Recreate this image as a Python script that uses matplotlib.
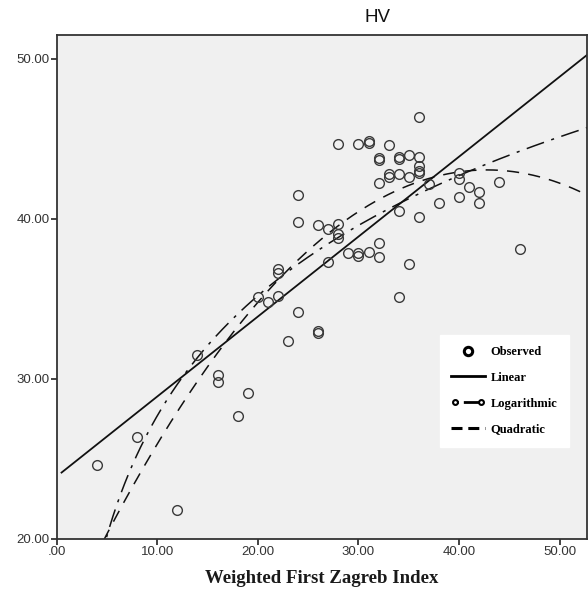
import numpy as np
import matplotlib
matplotlib.use("Agg")
from matplotlib import pyplot as plt
from matplotlib.lines import Line2D
from matplotlib.legend_handler import HandlerLine2D

# observed points
wfz = [4, 8, 12, 14, 16, 16, 18, 19, 20, 21, 22, 22, 22, 23, 24, 24, 24,
       26, 26, 26, 27, 27, 28, 28, 28, 28, 29, 30, 30, 30, 31, 31, 31,
       32, 32, 32, 32, 32, 33, 33, 33, 34, 34, 34, 34, 34, 35, 35, 35,
       36, 36, 36, 36, 36, 36, 37, 38, 40, 40, 40, 41, 42, 42, 44, 46]
hv = [24.6, 26.4, 21.8, 31.5, 30.25, 29.8, 27.7, 29.1, 35.1, 34.8, 36.9, 36.6, 35.2, 32.4, 41.5, 39.8, 34.2,
      39.6, 33.0, 32.85, 39.4, 37.3, 44.7, 39.7, 39.05, 38.8, 37.9, 44.7, 37.85, 37.7, 44.85, 44.75, 37.95,
      43.8, 43.7, 42.25, 38.5, 37.6, 44.6, 42.8, 42.6, 43.85, 43.75, 42.8, 40.5, 35.1, 44.0, 42.6, 37.2,
      46.4, 43.9, 43.3, 43.0, 42.85, 40.1, 42.2, 41.0, 42.9, 42.5, 41.4, 42.0, 41.7, 41.0, 42.3, 38.1]

# fitted model coefficients (estimated from the curves)
lin_coef = [23.9, 0.50]               # a + b*x
log_coef = [2.73, 10.84]              # a + b*ln(x)
quad_coef = [13.875, 1.3647, -0.01595]  # a + b*x + c*x^2

x_ticks = [0, 10, 20, 30, 40, 50]
x_labels = ['.00', '10.00', '20.00', '30.00', '40.00', '50.00']
y_ticks = [20, 30, 40, 50]
y_labels = ['20.00', '30.00', '40.00', '50.00']

fig = plt.figure(figsize=(5.88, 5.97), dpi=100)
ax = fig.add_axes([0.0961, 0.0972, 0.9022, 0.8442])
ax.set_facecolor('#f0f0f0')

xs = np.linspace(0.5, 52.7, 400)
ax.plot(xs, lin_coef[0] + lin_coef[1] * xs, color='#111111', lw=1.3)
ax.plot(xs, log_coef[0] + log_coef[1] * np.log(xs), color='#111111', lw=1.1,
        linestyle=(0, (12, 5, 2, 5)))
ax.plot(xs, quad_coef[0] + quad_coef[1] * xs + quad_coef[2] * xs ** 2,
        color='#111111', lw=1.1, linestyle=(0, (8, 6)))

ax.plot(wfz, hv, linestyle='none', marker='o', markersize=7,
        markerfacecolor='none', markeredgecolor='#3a3a3a', markeredgewidth=1.0)

ax.set_xlim(0, 52.7)
ax.set_ylim(20, 51.5)
ax.set_xticks(x_ticks)
ax.set_xticklabels(x_labels)
ax.set_yticks(y_ticks)
ax.set_yticklabels(y_labels)
ax.tick_params(direction='out', length=4, width=1.2, colors='#222222', pad=1,
               labelsize=9.5, labelcolor='#333333')
for lab in ax.get_xticklabels() + ax.get_yticklabels():
    lab.set_family('Liberation Sans')
for sp in ax.spines.values():
    sp.set_color('#333333')
    sp.set_linewidth(1.3)

ax.set_xlabel('Weighted First Zagreb Index', family='Liberation Serif',
              fontweight='bold', fontsize=13.5, color='#1a1a1a', labelpad=9)
fig.text(378 / 588, 1 - 18 / 597, 'HV', family='Liberation Sans', fontsize=13.5,
         ha='center', va='center', color='#111111')

# legend
handles = [
    Line2D([], [], linestyle='none', marker='o', markersize=6, markerfacecolor='none',
           markeredgecolor='black', markeredgewidth=2.2),
    Line2D([], [], color='black', lw=2),
    Line2D([], [], color='black', lw=2, linestyle=(0, (1.2, 1.8, 6, 1.8, 1.2)),
           marker='o', markersize=3.5,
           markerfacecolor='white', markeredgecolor='black', markeredgewidth=1.5),
    Line2D([], [], color='black', lw=2.2, linestyle=(0, (3.6, 1.9))),
]
labels = ['Observed', 'Linear', 'Logarithmic', 'Quadratic']
leg = ax.legend(handles, labels, loc='upper left', bbox_to_anchor=(0.722, 0.405),
                frameon=True, fancybox=False, handlelength=2.7, handletextpad=0.5,
                labelspacing=1.1, borderpad=0.9, borderaxespad=0, numpoints=2,
                handler_map={handles[0]: HandlerLine2D(numpoints=1),
                             handles[1]: HandlerLine2D(numpoints=1),
                             handles[3]: HandlerLine2D(numpoints=1)},
                prop={'family': 'Liberation Serif', 'weight': 'bold', 'size': 9})
leg.get_frame().set_facecolor('white')
leg.get_frame().set_edgecolor('white')
leg.get_frame().set_alpha(1)

fig.savefig('out.png', dpi=100)
